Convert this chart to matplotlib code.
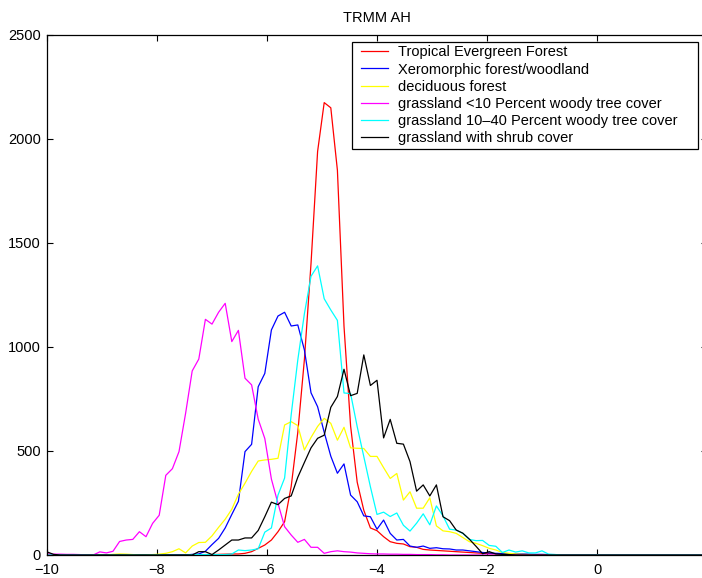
import matplotlib
matplotlib.use("Agg")
import matplotlib.pyplot as plt
from matplotlib.legend_handler import HandlerLine2D
import numpy as np

plt.rcParams['font.family'] = ['Liberation Sans', 'DejaVu Sans']
plt.rcParams['font.size'] = 10.5

# bin centres of the histogram (101 bins from -10 to 2)
x = np.linspace(-10, 2, 101)

tropical = [5, 0, 0, 0, 0, 0, 0, 0, 0, 0,
            0, 0, 0, 0, 0, 0, 0, 0, 0, 0,
            0, 0, 0, 0, 2, 2, 3, 4, 5, 5,
            8, 16, 32, 48, 72, 112, 160, 330, 590, 940,
            1400, 1940, 2175, 2150, 1850, 1100, 620, 350, 215, 130,
            117, 88, 64, 56, 53, 40, 37, 27, 24, 22,
            20, 18, 16, 14, 12, 10, 8, 7, 6, 5,
            4, 3, 2, 2, 1, 1, 0, 0, 0, 0,
            0, 0, 0, 0, 0, 0, 0, 0, 0, 0,
            0, 0, 0, 0, 0, 0, 0, 0, 0, 0, 0]

xeromorphic = [0, 0, 0, 0, 0, 0, 0, 0, 0, 0,
               0, 0, 0, 0, 0, 0, 0, 0, 0, 0,
               0, 0, 3, 5, 18, 50, 80, 130, 195, 258,
               497, 532, 809, 873, 1082, 1149, 1167, 1101, 1106, 986,
               780, 713, 590, 475, 393, 438, 288, 256, 188, 184,
               124, 168, 104, 72, 75, 43, 37, 43, 32, 35,
               30, 29, 24, 24, 20, 16, 12, 10, 8, 7,
               6, 5, 5, 4, 3, 3, 2, 2, 1, 1,
               0, 0, 0, 0, 0, 0, 0, 0, 0, 0,
               0, 0, 0, 0, 0, 0, 0, 0, 0, 0, 0]

deciduous = [0, 0, 0, 0, 0, 0, 0, 0, 0, 0,
             3, 5, 4, 2, 0, 0, 2, 4, 8, 16,
             30, 10, 43, 60, 61, 92, 133, 172, 220, 292,
             345, 402, 452, 457, 460, 465, 625, 641, 622, 505,
             565, 618, 657, 633, 552, 614, 515, 513, 512, 474,
             474, 420, 368, 392, 264, 304, 225, 225, 275, 140,
             116, 112, 104, 84, 64, 56, 45, 32, 24, 12,
             8, 5, 3, 2, 0, 0, 0, 0, 0, 0,
             0, 0, 0, 0, 0, 0, 0, 0, 0, 0,
             0, 0, 0, 0, 0, 0, 0, 0, 0, 0, 0]

grass_lt10 = [5, 4, 4, 3, 3, 2, 0, 0, 15, 10,
              18, 65, 72, 75, 112, 88, 152, 191, 383, 415,
              497, 681, 885, 942, 1133, 1110, 1167, 1210, 1026, 1080,
              850, 818, 653, 560, 365, 248, 136, 96, 61, 75,
              37, 37, 8, 16, 20, 16, 14, 10, 8, 6,
              5, 5, 4, 4, 3, 3, 2, 2, 2, 1,
              1, 0, 0, 0, 0, 0, 0, 0, 0, 0,
              0, 0, 0, 0, 0, 0, 0, 0, 0, 0,
              0, 0, 0, 0, 0, 0, 0, 0, 0, 0,
              0, 0, 0, 0, 0, 0, 0, 0, 0, 0, 0]

grass_10_40 = [0, 0, 0, 0, 0, 0, 0, 0, 0, 0,
               0, 0, 0, 0, 0, 0, 0, 0, 0, 0,
               0, 0, 2, 2, 2, 2, 2, 2, 5, 24,
               21, 24, 30, 110, 130, 288, 370, 675, 938, 1160,
               1340, 1390, 1232, 1178, 1128, 779, 776, 617, 473, 328,
               195, 206, 185, 202, 143, 115, 153, 198, 145, 236,
               188, 124, 120, 104, 75, 69, 70, 46, 42, 12,
               24, 14, 20, 10, 10, 20, 4, 2, 0, 0,
               0, 0, 0, 0, 0, 0, 0, 0, 0, 0,
               0, 0, 0, 0, 0, 0, 0, 0, 0, 0, 0]

shrub = [15, 3, 0, 0, 0, 0, 0, 0, 0, 0,
         0, 0, 0, 0, 0, 0, 0, 0, 0, 0,
         0, 0, 0, 16, 16, 2, 24, 48, 72, 72,
         82, 82, 118, 184, 254, 242, 272, 284, 374, 445,
         515, 561, 576, 710, 762, 893, 766, 777, 962, 815,
         840, 563, 652, 537, 533, 449, 307, 337, 284, 337,
         184, 165, 120, 105, 76, 42, 6, 16, 5, 3,
         2, 0, 0, 0, 0, 0, 0, 0, 0, 0,
         0, 0, 0, 0, 0, 0, 0, 0, 0, 0,
         0, 0, 0, 0, 0, 0, 0, 0, 0, 0, 0]

labels = ['Tropical Evergreen Forest',
          'Xeromorphic forest/woodland',
          'deciduous forest',
          'grassland <10 Percent woody tree cover',
          'grassland 10\u201340 Percent woody tree cover',
          'grassland with shrub cover']
colors = ['#ff0000', '#0000ff', '#ffff00', '#ff00ff', '#00ffff', '#000000']
series = [tropical, xeromorphic, deciduous, grass_lt10, grass_10_40, shrub]

fig = plt.figure(figsize=(7.02, 5.78), dpi=100)
ax = fig.add_axes([47 / 702, 23 / 578, 660 / 702, 520 / 578])

for y, c, lab in zip(series, colors, labels):
    ax.plot(x, y, color=c, lw=0.9, label=lab)

ax.set_xlim(-10, 2)
ax.set_ylim(0, 2500)
ax.set_xticks([-10, -8, -6, -4, -2, 0])
ax.set_yticks([0, 500, 1000, 1500, 2000, 2500])
ax.tick_params(direction='in', top=True, right=True, length=4.5, width=0.8,
               labelsize=10.5)
ax.tick_params(axis='y', pad=4.5)
ax.tick_params(axis='x', pad=5.5)
for s in ax.spines.values():
    s.set_linewidth(0.9)

ax.set_title('TRMM AH', fontsize=10.5, pad=9)

# legend box spans the MATLAB-style frame, handle shifted in from the border
leg = ax.legend(loc='upper left',
                bbox_to_anchor=(352 / 702, 1 - 147 / 578, 346 / 702, 105 / 578),
                bbox_transform=fig.transFigure, mode='expand', borderaxespad=0,
                fancybox=False, framealpha=1, edgecolor='black',
                handlelength=2.22, handletextpad=0.68, labelspacing=0.22,
                borderpad=0.23, fontsize=10.5,
                handler_map={matplotlib.lines.Line2D: HandlerLine2D(xpad=0.41)})
leg.get_frame().set_linewidth(0.9)

fig.savefig('out.png', dpi=100)
